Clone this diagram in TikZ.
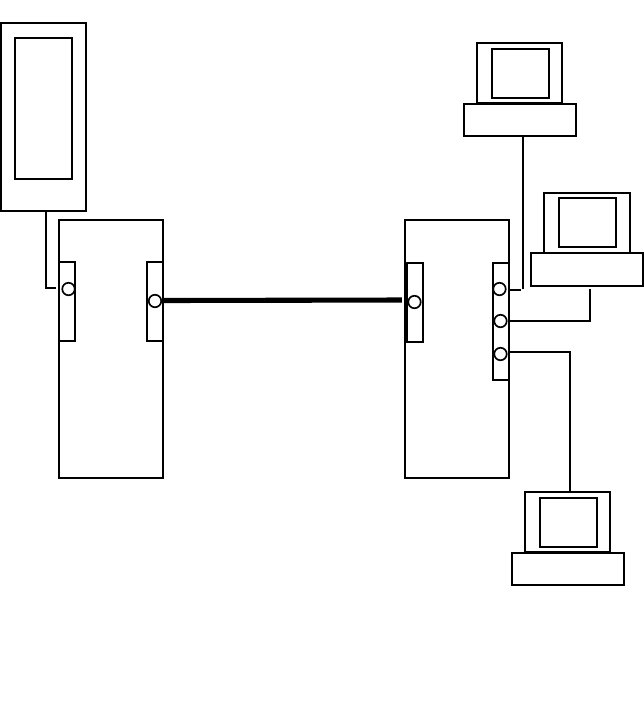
\documentclass[tikz,border=0pt]{standalone}
\usepackage{tikz}
\usetikzlibrary{calc}
\begin{document}
\begin{tikzpicture}[
    x=0.02cm, y=-0.02cm,
    blk/.style = {
      rectangle, draw, line width=0.9pt, inner sep=0pt, fill=white
    },
    port/.style = {
      circle, draw, line width=0.95pt, inner sep=0pt, minimum size=0.25cm, fill=white
    },
    wire/.style = {line width=0.9pt},
    trunk/.style = {line width=2.9pt},
  ]
  \useasboundingbox (0,0) rectangle (644,708);
  % display unit
  \node[blk, minimum width=1.70cm, minimum height=3.76cm] (panel) at (43.5,117) {};
  \node[blk, minimum width=1.14cm, minimum height=2.82cm] (screen) at (43.5,108.5) {};
  % switches
  \node[blk, minimum width=2.08cm, minimum height=5.16cm] (swA) at (111,349) {};
  \node[blk, minimum width=2.08cm, minimum height=5.16cm] (swB) at (457,349) {};
  % port strips
  \node[blk, minimum width=0.32cm, minimum height=1.58cm] (stripA) at (67,301.5) {};
  \node[blk, minimum width=0.32cm, minimum height=1.58cm] (stripB) at (155,301.5) {};
  \node[blk, minimum width=0.32cm, minimum height=1.58cm] (stripC) at (415,302.5) {};
  \node[blk, minimum width=0.32cm, minimum height=2.34cm] (stripD) at (501,321.5) {};
  \node[port] (portA) at (68.5,289) {};
  \node[port] (portB) at (155,301) {};
  \node[port] (portC) at (414.5,302) {};
  \node[port] (portD) at (499.5,289) {};
  \node[port] (portE) at (500.5,321) {};
  \node[port] (portF) at (500.5,354) {};
  % computers
  \node[blk, minimum width=1.70cm, minimum height=1.20cm] (monT) at (519.5,73) {};
  \node[blk, minimum width=1.14cm, minimum height=0.98cm] (scrT) at (520.5,73.5) {};
  \node[blk, minimum width=2.24cm, minimum height=0.64cm] (baseT) at (520,120) {};
  \node[blk, minimum width=1.72cm, minimum height=1.20cm] (monR) at (587,223) {};
  \node[blk, minimum width=1.14cm, minimum height=0.98cm] (scrR) at (587.5,222.5) {};
  \node[blk, minimum width=2.24cm, minimum height=0.66cm] (baseR) at (587,269.5) {};
  \node[blk, minimum width=1.70cm, minimum height=1.20cm] (monB) at (567.5,522) {};
  \node[blk, minimum width=1.14cm, minimum height=0.98cm] (scrB) at (568.5,522.5) {};
  \node[blk, minimum width=2.24cm, minimum height=0.64cm] (baseB) at (568,569) {};
  % connectors
  \draw[trunk, shorten >=2.4pt] (stripB.east |- 0,300.5) -- (stripC.west |- 0,300);
  \draw[wire, shorten >=1.1pt] (panel.south -| 46,0) -- (46,288) -- (stripA.west |- 0,288);
  \draw[wire, shorten >=0.6pt] (baseT.south -| 523,0) -- (523,290);
  \draw[wire, shorten >=1.1pt] (stripD.east |- 0,290) -- (523,290);
  \draw[wire, shorten >=1.1pt] (stripD.east |- 0,321) -- (590,321) -- (baseR.south -| 590,0);
  \draw[wire] (monB.north -| 570,0) -- (570,352) -- (stripD.east |- 0,352);
\end{tikzpicture}
\end{document}
